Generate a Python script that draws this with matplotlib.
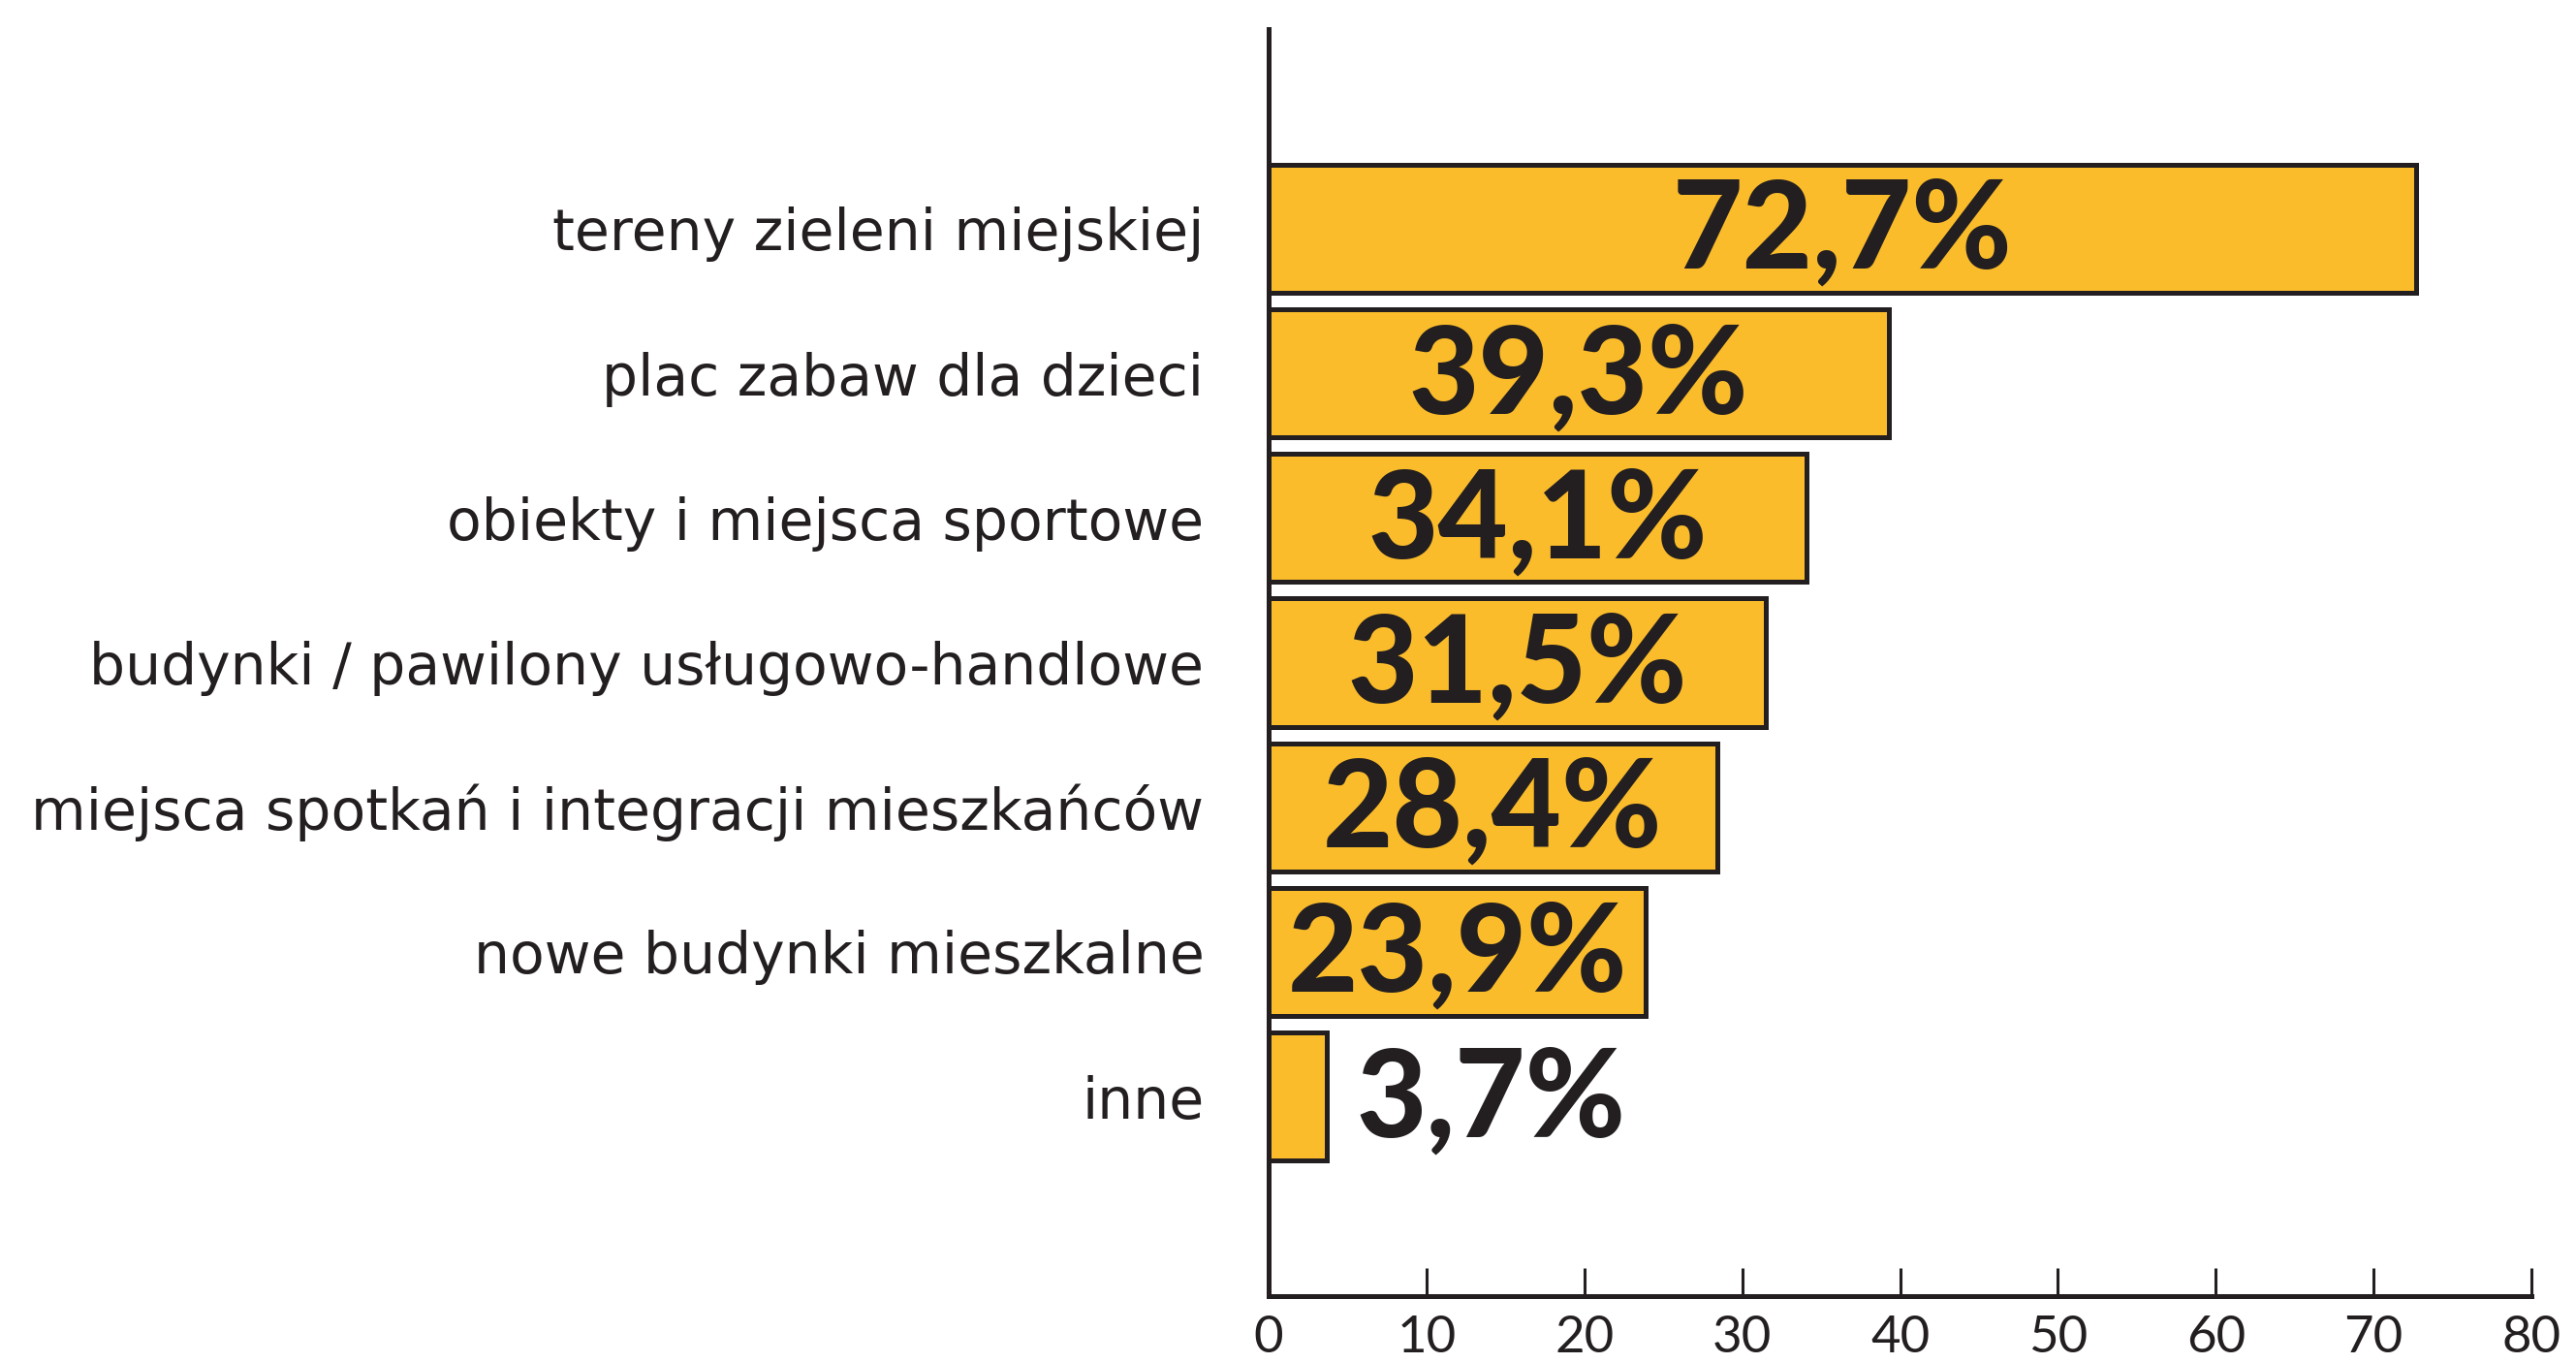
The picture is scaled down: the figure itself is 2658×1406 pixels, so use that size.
import matplotlib
matplotlib.use("Agg")
import matplotlib.pyplot as plt

categories = [
    "tereny zieleni miejskiej",
    "plac zabaw dla dzieci",
    "obiekty i miejsca sportowe",
    "budynki / pawilony usługowo-handlowe",
    "miejsca spotkań i integracji mieszkańców",
    "nowe budynki mieszkalne",
    "inne",
]
values = [72.7, 39.3, 34.1, 31.5, 28.4, 23.9, 3.7]
value_labels = ["72,7%", "39,3%", "34,1%", "31,5%", "28,4%", "23,9%", "3,7%"]
xticks = [0, 10, 20, 30, 40, 50, 60, 70, 80]

DARK = "#231f20"
BAR = "#fbbc2b"

plt.rcParams["font.family"] = ["Lato", "DejaVu Sans"]

fig = plt.figure(figsize=(26.58, 14.06), dpi=100)
ax = fig.add_axes([0.4925, 0.049, 0.4902, 0.9297])

pos = list(range(len(categories)))
ax.barh(pos, values, height=0.886, color=BAR, edgecolor=DARK, linewidth=3.6, zorder=3)

for p, v, lab in zip(pos, values, value_labels):
    if v > 15:
        ax.text(v / 2, p + 0.03, lab, ha="center", va="center", fontsize=90,
                fontweight="black", color=DARK, zorder=4)
    else:
        ax.annotate(lab, xy=(v, p + 0.03), xytext=(22, 0), textcoords="offset points",
                    ha="left", va="center", fontsize=90, fontweight="black",
                    color=DARK, zorder=4)

ax.set_ylim(len(categories) - 1 + 1.38, -1.38)
ax.set_xlim(0, 80)
ax.set_yticks(pos)
ax.set_yticklabels(categories, fontsize=42, color=DARK,
                   family=["DejaVu Sans"], fontweight="normal")
ax.set_xticks(xticks)
ax.set_xticklabels([str(t) for t in xticks], fontsize=38, color=DARK)

ax.tick_params(axis="y", length=0, pad=48)
ax.tick_params(axis="x", direction="in", length=21, width=2.2, color=DARK, pad=14)

for s in ["top", "right"]:
    ax.spines[s].set_visible(False)
for s in ["left", "bottom"]:
    ax.spines[s].set_color(DARK)
    ax.spines[s].set_linewidth(3.6)
    ax.spines[s].set_zorder(5)

fig.savefig("out.png", dpi=100, facecolor="white")
